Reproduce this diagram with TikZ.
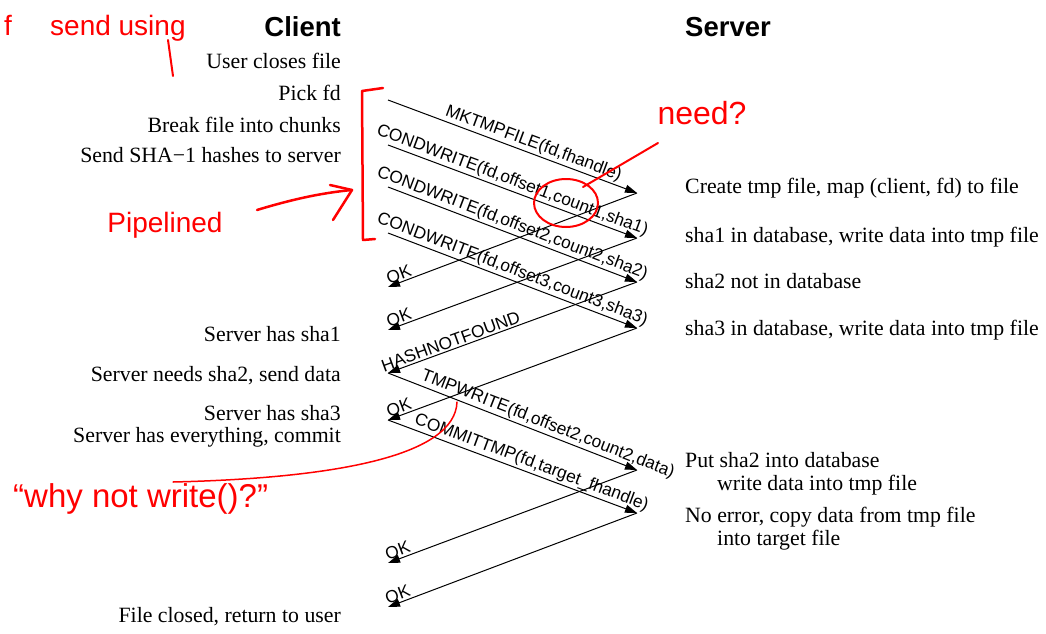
\documentclass[tikz,border=0pt]{standalone}
\usepackage{fontspec}
\setmainfont{Liberation Serif}
\setsansfont{Liberation Sans}
\usetikzlibrary{arrows.meta}
\begin{document}
\begin{tikzpicture}[x=1pt,y=1pt,
  msg/.style={line width=1pt,-{Triangle[length=12pt,width=8pt,fill=black]}},
  lbl/.style={sloped,above,inner sep=1.5pt,font=\sffamily\fontsize{17.3}{18}\selectfont},
  ctext/.style={anchor=base east,inner sep=0pt,font=\fontsize{21.8}{24}\selectfont},
  stext/.style={anchor=base west,inner sep=0pt,font=\fontsize{21.8}{24}\selectfont},
  head/.style={inner sep=0pt,font=\sffamily\bfseries\fontsize{27.5}{30}\selectfont},
  note/.style={red,line width=2.5pt,line cap=round,line join=round},
  hand/.style={red,inner sep=0pt,font=\sffamily\fontsize{28}{30}\selectfont}]
\useasboundingbox (0,0) rectangle (1046,-634);

% headings
\node[head,anchor=base east] (client) at (341,-37) {Client};
\node[head,anchor=base west] (server) at (685,-37) {Server};

% client side texts
\node[ctext] (t1) at (341,-68) {User closes file};
\node[ctext] (t2) at (341,-100) {Pick fd};
\node[ctext] (t3) at (341,-132) {Break file into chunks};
\node[ctext] (t4) at (341,-162) {Send SHA−1 hashes to server};
\node[ctext] (t5) at (341,-341) {Server has sha1};
\node[ctext] (t6) at (341,-381) {Server needs sha2, send data};
\node[ctext] (t7) at (341,-420) {Server has sha3};
\node[ctext] (t8) at (341,-442) {Server has everything, commit};
\node[ctext] (t9) at (341,-622) {File closed, return to user};

% server side texts
\node[stext] (u1) at (685,-193) {Create tmp file, map (client, fd) to file};
\node[stext] (u2) at (685,-242) {sha1 in database, write data into tmp file};
\node[stext] (u3) at (685,-288) {sha2 not in database};
\node[stext] (u4) at (685,-335) {sha3 in database, write data into tmp file};
\node[stext] (u5) at (685,-467) {Put sha2 into database};
\node[stext] (u6) at (717,-490) {write data into tmp file};
\node[stext] (u7) at (685,-522) {No error, copy data from tmp file};
\node[stext] (u8) at (717,-545) {into target file};

% message end points
\coordinate (c1) at (388,-100);
\coordinate (c2) at (388,-145);
\coordinate (c3) at (388,-187);
\coordinate (c4) at (388,-233);
\coordinate (s1) at (637,-193);
\coordinate (s2) at (637,-238);
\coordinate (s3) at (637,-282);
\coordinate (s4) at (637,-328);
\coordinate (r1) at (388,-287);
\coordinate (r2) at (388,-330);
\coordinate (r3) at (388,-373);
\coordinate (r4) at (388,-420);
\coordinate (s5) at (637,-470);
\coordinate (s6) at (637,-513);
\coordinate (r5) at (388,-563);
\coordinate (r6) at (388,-607);

\draw[msg] (c1) -- node[lbl,pos=0.57] {MKTMPFILE(fd,fhandle)} (s1);
\draw[msg] (c2) -- node[lbl,pos=0.485] {CONDWRITE(fd,offset1,count1,sha1)} (s2);
\draw[msg] (c3) -- node[lbl,pos=0.485] {CONDWRITE(fd,offset2,count2,sha2)} (s3);
\draw[msg] (c4) -- node[lbl,pos=0.485] {CONDWRITE(fd,offset3,count3,sha3)} (s4);
\draw[msg] (s1) -- node[lbl,pos=0.945] {OK} (r1);
\draw[msg] (s2) -- node[lbl,pos=0.945] {OK} (r2);
\draw[msg] (s3) -- node[lbl,pos=0.737] {HASHNOTFOUND} (r3);
\draw[msg] (s4) -- node[lbl,pos=0.945] {OK} (r4);
\draw[msg] (r3) -- node[lbl,pos=0.627] {TMPWRITE(fd,offset2,count2,data)} (s5);
\draw[msg] (r4) -- node[lbl,pos=0.562] {COMMITTMP(fd,target\_fhandle)} (s6);
\draw[msg] (s5) -- node[lbl,pos=0.95] {OK} (r5);
\draw[msg] (s6) -- node[lbl,pos=0.95] {OK} (r6);

% red annotations
\node[hand,anchor=base] (hf) at (8,-36) {f};
\node[hand,anchor=base west] (hs) at (50,-36) {send using};
\coordinate (g1) at (168,-40);
\coordinate (g2) at (173,-76);
\draw[note,line width=2pt] (g1) -- (g2);

\coordinate (b1) at (383,-88);
\coordinate (b2) at (362,-91);
\coordinate (b3) at (363,-240);
\coordinate (b4) at (375,-239);
\draw[note] (b1) -- (b2) -- (b3) -- (b4);

\node[hand,anchor=base] (pipe) at (165,-232) {Pipelined};
\coordinate (pa) at (257,-210);
\coordinate (pb) at (352,-190);
\coordinate (pc) at (330,-185);
\coordinate (pd) at (333,-220);
\draw[note] (pa) .. controls (290,-200) and (320,-193) .. (pb);
\draw[note] (pc) -- (pb) -- (pd);

\node[hand,anchor=base,font=\sffamily\fontsize{32}{34}\selectfont] (need) at (702,-124) {need?};
\coordinate (n1) at (658,-143);
\coordinate (n2) at (583,-187);
\draw[note,line width=2pt] (n1) -- (n2);
\draw[note,line width=2pt] (566,-203) ellipse [x radius=32,y radius=24];

\node[hand,anchor=base west,font=\sffamily\fontsize{33}{35}\selectfont] (why) at (13,-507) {“why not write()?”};
\coordinate (w1) at (173,-482);
\coordinate (w2) at (457,-402);
\draw[note,line width=1.5pt] (w1) .. controls (340,-478) and (455,-455) .. (w2);
\end{tikzpicture}
\end{document}
